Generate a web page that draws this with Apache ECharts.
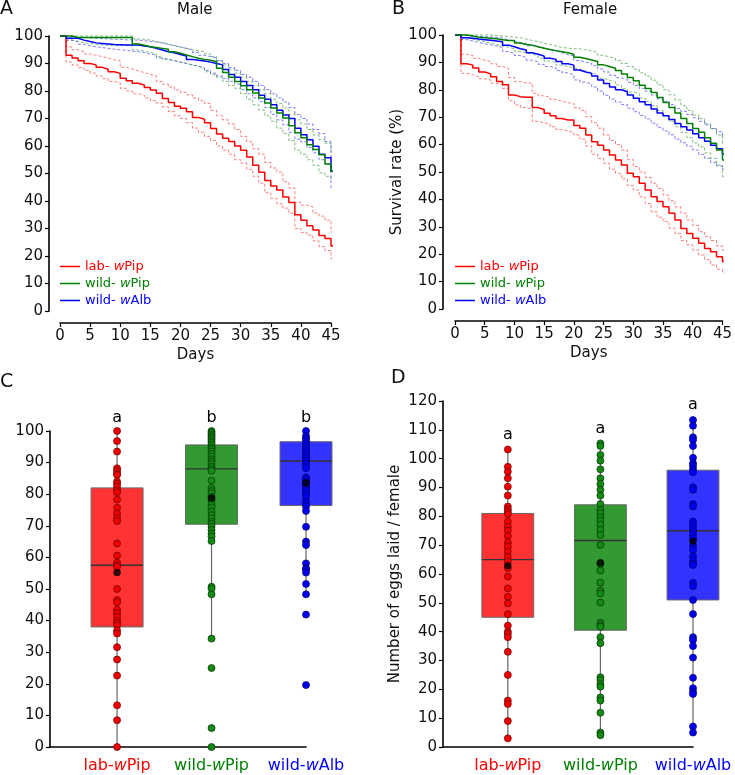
<!DOCTYPE html>
<html>
<head>
<meta charset="utf-8">
<script src="https://cdn.jsdelivr.net/npm/echarts@6/dist/echarts.min.js"></script>
<style>
html,body{margin:0;padding:0;background:#fff}
#main{width:735px;height:775px}
</style>
</head>
<body>
<div id="main"></div>
<script>
/******* survival curves, one value per day (0..46) ***********************/
// A - male
var maleLabMid  = [100,93,92,91,90,89.5,88.6,87.9,87,86.4,84.6,83.7,82.8,82.2,81.3,80.4,79.2,77.3,75.8,74.5,73.7,72.5,70.4,69.7,68.5,66.4,64.4,62.8,61.6,60,58.5,56,53,50.5,47.5,45.5,44,41.5,39.5,35,33,31,29.5,27.5,26.4,23.6,23.6];
var maleLabHi   = [100,96,95,94.3,93.5,93,92.5,92,91.3,91,88.6,88,87.3,86.7,86,85.5,83.5,82.5,81.5,80.4,79.5,78.6,77.5,76.5,75.5,73,71,69.5,68,66,63.5,61.5,59,57,54,52,50.5,47,44.7,39.5,38.5,37.9,35.6,34.5,33,28.7,28.7];
var maleLabLo   = [100,90.5,89.5,88.5,87.5,86.5,85.5,84.5,83.5,83,81,80,79,78.5,77.5,76.5,75.6,74.2,72.5,71,70,68.5,66.5,65,63.5,62,60,58.5,57,55,53.8,51.5,49,46.5,43,41,39,37.4,35.5,30,28.5,27.6,25.5,23.4,22,19,19];
var maleWPipMid = [100,100,99.5,99.5,99.5,99.5,99.5,99.5,99.5,99.5,99.5,99.5,97.1,96.6,96.1,95.8,95.5,95.2,94.3,93.7,93.1,92.5,91.9,91.5,91.2,90.7,88.3,86.7,85,83.5,81.9,80.5,79.3,77.5,75.6,73.8,72,70.2,67.4,64.8,63,60.5,58.7,56.8,53.5,50.8,50.8];
var maleWPipHi  = [100,100,100,100,100,100,100,100,100,100,100,100,99,98.8,98.5,98,97.5,97,96.5,96,95.5,95,94.6,94.3,93.5,92.5,91,89.5,88,86.5,85,83.5,82,80.5,79,77,75.5,73.8,71.5,69.5,68,66,64,62.3,61,58,58];
var maleWPipLo  = [100,98.5,98,97.5,97.3,97,96.8,96.6,96.5,96.5,96.5,96.5,94.9,94.5,94,93.5,92.5,91.5,91,90.5,90,89.5,89,88.3,87,86,85,83.5,82,81,79,77,75,73.1,71,69,66.5,64.6,62,58.5,57,55,53,50.2,49,47.6,47.6];
var maleWAlbMid = [100,99.2,99.2,98.5,98,97.5,97.3,97.1,96.9,96.8,96.7,96.7,96.7,96.4,96.1,95.5,94.9,94.3,93.9,93.3,92.7,91.5,91.2,90.9,90.5,90,89.5,87.8,86,85,83.5,82,80.5,78.5,77,75,73,71.3,70,66.5,64.1,62.3,59.9,57,55.7,50.8,50.8];
var maleWAlbHi  = [100,99.5,99.5,99.5,99.3,99.2,99,99,98.8,98.8,98.6,98.6,98.5,98.3,98,97.8,97.5,97,96.5,96,95.5,95,94,93,92.5,92,91,90,88.5,87.5,86,85,83.5,82,80.5,79,77.5,76,74,71.5,70,68,66,64.5,61.6,56,56];
var maleWAlbLo  = [100,98.5,98,97,96.5,96,95.8,95.5,95.2,95,94.8,94.5,94.3,94,93.5,93,92,91.5,91,90.5,90,89.5,89,88.3,87.5,86.5,85.5,84.5,83.5,82.5,80.5,79,77.5,76.2,74,71.5,69.5,67.7,65,62.5,61.5,59.5,57.5,55,53.5,44.6,44.6];

// B - female
var femLabMid  = [100,89.5,89,88,86.5,85.8,84.8,83,81.8,78.1,77.5,77.3,77.3,73.5,72.8,71.4,70.5,69.5,69,69,67,66,63.5,61,59.8,58,56.2,54.4,52.6,49.5,48.3,45.9,43.4,41,39.2,37.3,34.9,32.5,29.4,27.6,25.8,24,22.1,20.9,19.1,17.3,17];
var femLabHi   = [100,93,92.5,91.5,90.8,90.3,89.5,88.5,87.9,84.5,83,82.5,82.5,78.7,77.8,77.3,76.5,75.8,75.3,75,73.5,72.5,70.2,68,66,63.5,61.5,60,58,54.5,52,50,48,45.9,44,41.6,39.5,37.3,35,32.5,30.5,28.2,26.5,25,23,21.5,21];
var femLabLo   = [100,86,85.5,84.8,84,83.6,82.4,81.8,80.5,76,74.5,73.5,73,68.5,68,67.5,66.5,65.5,65,64.5,63.5,62,59.5,56.5,55,53.2,51,49.5,47.5,45,43.4,41,38.5,35.5,33.5,31.9,29.5,27.6,25,23.4,21.5,19.7,18,16.1,14.5,13.1,12.5];
var femWPipMid = [100,100,99.6,99.2,99,98.8,98.6,98.3,98,98,97.1,96.5,96.3,95.7,95.2,94.7,94.3,93.9,93.5,93,91.9,91.4,90.9,90.3,89.1,88.5,87.9,87,85.8,84.5,83.3,81.7,80.5,79,77.2,75.4,73.5,71.5,69.5,67.7,65.9,64.5,62.5,60.5,58,54.4,54.4];
var femWPipHi  = [100,100,100,100,100,100,99.8,99.6,99.4,99.2,99,98.5,98,97.6,97,96.5,96,95.5,95.2,95,95,94.6,94.2,93.7,92.6,92,91.5,90.7,89.6,88.5,87.5,86.2,85,83.5,81.8,80,78.2,76.3,74.3,72.5,70.8,69.5,67.6,65.8,63.5,60.4,60.4];
var femWPipLo  = [100,99,98.5,98,97.5,97,96.5,96,95.5,95,94,93.5,93,92.5,91.5,90.5,90,89,88.5,88,87.5,86.8,86.2,85.5,84.2,83.5,82.8,81.8,80.5,79.2,78.7,77,75.7,74.2,72.4,70.5,68.5,66.5,64.5,62.5,60.6,59.2,57,55,52.5,48.3,48.3];
var femWAlbMid = [100,99,98.8,98.5,98.3,98.1,97.8,97.5,96.3,95.7,95,94.5,93.5,93,92.3,91.5,91.1,90.3,89.5,89,87.2,86.5,86,85,83.6,82.3,81,80,79.3,78.1,76.9,75.6,74.5,73,71.5,70.5,69.2,67.7,66.5,65.3,64,62.5,61.2,59.8,58.5,56.6,56.6];
var femWAlbHi  = [100,99.8,99.6,99.5,99.4,99.3,99.1,98.9,98.2,97.8,97.3,96.9,96.1,95.7,95.2,94.5,94.1,93.5,92.8,92.4,90.7,90.1,89.7,88.9,87.6,86.5,85.3,84.4,83.8,82.7,81.6,80.5,79.5,78.1,76.7,75.8,74.6,73.2,72.1,71,69.8,68.5,67.2,65.9,64.7,62.9,62.9];
var femWAlbLo  = [100,98.3,97.8,97.3,96.8,96.4,96,95.5,94,93.3,92.5,91.8,90.8,90.2,89.3,88.5,88,87,86.2,85.5,83.6,82.8,82.2,81,79.5,78,76.6,75.5,74.6,73.3,72,70.6,69.4,67.8,66.2,65,63.6,62,60.7,59.4,58,56.4,55,53.5,52.2,51,51];

var legendNames = ['lab- wPip', 'wild- wPip', 'wild- wAlb'];

/******* box plots **********************************************************/
var categories = ['lab-wPip', 'wild-wPip', 'wild-wAlb'];
// [low whisker, Q1, median, Q3, high whisker]
var boxC = [[0, 38, 57.5, 82, 100], [34.3, 70.5, 88, 95.6, 100], [48.3, 76.4, 90.5, 96.6, 100]];
var meanC = [55.2, 78.8, 83.6];
var lettersC = ['a', 'b', 'b'];
var pointsCLab  = [100,96.8,93.5,88.2,87.5,86.6,86.1,84,83.3,82.4,81.2,80.6,78.3,75.7,73.9,72.5,71.5,64.4,60.6,58.3,57.5,57.1,50,46.5,45.8,43.4,42.4,41.3,40,39.2,38.5,36.9,35.9,31.6,27.7,22.6,13.2,8.5,0];
var pointsCWPip = [100,99.5,98.9,98.4,97.9,97.4,96.8,96.3,95.6,94.8,94.2,93.5,92.7,91.9,91,90.3,89.6,88.7,88,87.4,84.3,81.9,81,80.3,79.2,78.2,76.8,75.8,74.5,73.4,72.4,71.3,70.6,69.7,68.7,67.6,66.6,65.2,50.7,50.1,48.3,34.3,25,6,0];
var pointsCWAlb = [100,98.4,97.7,96.9,96.1,95.3,94.5,93.7,92.9,92.1,91.4,90.6,89.8,88.9,88.2,85.3,84.7,84,83.2,82.4,81.5,81,80.1,79.2,77.7,76.9,76.1,74.7,69.7,65,63.9,58.1,56.5,56.2,55.2,51.6,48.3,41.9,19.6];

var boxD = [[3, 45, 65, 81, 103.2], [4.1, 40.5, 71.6, 84, 105.3], [5, 51, 75, 96, 113.4]];
var meanD = [62.9, 63.9, 71.4];
var lettersD = ['a', 'a', 'a'];
var pointsDLab  = [103.2,97.2,95.5,93.2,90.3,87.2,83.4,82.4,81.6,80.8,78.2,76.4,75.1,73.2,70.9,69.5,67.8,66,64.3,62,59.1,55,52.1,49.8,46.1,42.1,40,39.2,38.1,33,25,16.1,14.9,9,3];
var pointsDWPip = [105.3,104.4,101.3,99.3,96.3,93.2,91.2,89.2,87.2,84.3,82.2,81.1,79.7,78.5,77.1,75.3,73.6,70.1,63.5,61.2,57,54.2,53.3,50.1,43.1,42.3,41.7,38.1,36,24.2,23.2,21.8,20.9,17.2,16.1,11.9,5,4.1];
var pointsDWAlb = [113.4,111.4,107.4,106.5,104.4,100.3,98.4,97.5,96.3,95.3,90.1,89.2,84.3,83.4,78.2,77.1,75.9,74.8,73.6,72.4,69.8,68.4,66.1,64.7,63.6,63.1,57,55.8,51,46.1,38.1,37.1,35,31,24,20.4,19.2,18.4,7.1,5];

/******* styles *************************************************************/
var FONT = 'DejaVu Sans';
var TXT = '#111';
var lineColors = ['#ff0000', '#008000', '#0000ff'];
var boxFill = ['#ff3333', '#339933', '#3333ff'];
var dotFill = ['#ee0000', '#138a13', '#0000ee'];
var dotEdge = ['#6a0000', '#063006', '#00006a'];
var richKeys = ['r', 'g', 'b'];

var rich = {};
richKeys.forEach(function(k, i) {
	rich[k] = {color: lineColors[i], fontFamily: FONT, fontSize: 13, lineHeight: 14};
	rich[k + 'i'] = {color: lineColors[i], fontFamily: FONT, fontSize: 13, lineHeight: 14, fontStyle: 'italic'};
	rich[k + 'c'] = {color: lineColors[i], fontFamily: FONT, fontSize: 16};
	rich[k + 'ci'] = {color: lineColors[i], fontFamily: FONT, fontSize: 16, fontStyle: 'italic'};
});

function stepData(arr) {
	return arr.map(function(v, i) { return [i, v]; });
}

function kmLine(arr, ci, grid, dashed, name) {
	return {
		type: 'line', name: name, xAxisIndex: grid, yAxisIndex: grid,
		data: stepData(arr), step: 'end', symbol: 'none', clip: false, silent: true,
		itemStyle: {color: lineColors[ci]},
		lineStyle: dashed ? {color: lineColors[ci], width: 1, type: [3, 2], opacity: 0.5}
		                  : {color: lineColors[ci], width: 1.5},
		z: dashed ? 2 : 3
	};
}

function valueAxis(grid, max, offset, name, gap) {
	return {
		type: 'value', gridIndex: grid, min: 0, max: max, interval: 10, offset: offset,
		name: name || '', nameLocation: 'middle', nameGap: gap || 0,
		nameTextStyle: {fontFamily: FONT, fontSize: 15, color: TXT},
		axisLine: {show: true, onZero: false, lineStyle: {color: '#000', width: 1.6}},
		axisTick: {show: true, length: 4, lineStyle: {color: '#000', width: 1.2}},
		axisLabel: {fontFamily: FONT, fontSize: 15, color: TXT, margin: 6},
		splitLine: {show: false}
	};
}

function daysAxis(grid) {
	return {
		type: 'value', gridIndex: grid, min: 0, max: 45, interval: 5, offset: 12,
		name: 'Days', nameLocation: 'middle', nameGap: 25,
		nameTextStyle: {fontFamily: FONT, fontSize: 15, color: TXT},
		axisLine: {show: true, onZero: false, lineStyle: {color: '#000', width: 1.6}},
		axisTick: {show: true, length: 4, lineStyle: {color: '#000', width: 1.2}},
		axisLabel: {fontFamily: FONT, fontSize: 15, color: TXT, margin: 6},
		splitLine: {show: false}
	};
}

function groupAxis(grid, min) {
	return {
		type: 'value', gridIndex: grid, min: min, max: 2,
		axisLine: {show: true, onZero: false, lineStyle: {color: '#000', width: 1.6}},
		axisTick: {show: false},
		splitLine: {show: false},
		axisLabel: {
			customValues: [0, 1, 2], margin: 11, rich: rich,
			formatter: function(v) {
				var i = Math.round(v);
				var k = richKeys[i];
				var p = categories[i].split('-w');
				return '{' + k + 'c|' + p[0] + '-}{' + k + 'ci|w}{' + k + 'c|' + p[1] + '}';
			}
		}
	};
}

function boxRenderer(width) {
	return function(params, api) {
		var x = api.value(0);
		var lo = api.coord([x, api.value(1)]);
		var q1 = api.coord([x, api.value(2)]);
		var md = api.coord([x, api.value(3)]);
		var q3 = api.coord([x, api.value(4)]);
		var hi = api.coord([x, api.value(5)]);
		var hw = api.size([width, 0])[0] / 2;
		return {
			type: 'group',
			children: [
				{type: 'line', shape: {x1: lo[0], y1: lo[1], x2: hi[0], y2: hi[1]}, style: {stroke: '#666', lineWidth: 1.2}},
				{type: 'rect', shape: {x: q3[0] - hw, y: q3[1], width: hw * 2, height: q1[1] - q3[1]},
				 style: {fill: boxFill[params.dataIndex], stroke: '#666', lineWidth: 1}},
				{type: 'line', shape: {x1: md[0] - hw, y1: md[1], x2: md[0] + hw, y2: md[1]}, style: {stroke: '#333', lineWidth: 1.4}}
			]
		};
	};
}

function boxSeries(grid, boxes, width) {
	return {
		type: 'custom', xAxisIndex: grid, yAxisIndex: grid, silent: true, z: 2,
		data: boxes.map(function(b, i) { return [i].concat(b); }),
		encode: {x: 0, y: [1, 2, 3, 4, 5]},
		renderItem: boxRenderer(width)
	};
}

function dotSeries(grid, idx, vals) {
	return {
		type: 'scatter', xAxisIndex: grid, yAxisIndex: grid, silent: true, clip: false, z: 3,
		symbolSize: 7,
		data: vals.map(function(v) { return [idx, v]; }),
		itemStyle: {color: dotFill[idx], borderColor: dotEdge[idx], borderWidth: 0.7, opacity: 1}
	};
}

function meanSeries(grid, means) {
	return {
		type: 'scatter', xAxisIndex: grid, yAxisIndex: grid, silent: true, clip: false, z: 4,
		symbolSize: 7,
		data: means.map(function(v, i) { return [i, v]; }),
		itemStyle: {color: '#000', borderColor: '#000', borderWidth: 0.5}
	};
}

function letterSeries(grid, boxes, letters, dist) {
	return {
		type: 'scatter', xAxisIndex: grid, yAxisIndex: grid, silent: true, clip: false, z: 5,
		symbolSize: 0,
		data: boxes.map(function(b, i) { return [i, b[4]]; }),
		itemStyle: {color: '#000', opacity: 1},
		label: {
			show: true, position: 'top', distance: dist, opacity: 1,
			fontFamily: FONT, fontSize: 16, color: '#000',
			formatter: function(p) { return letters[p.dataIndex]; }
		}
	};
}

function legendAt(left) {
	return {
		left: left, top: 260, orient: 'vertical', padding: 0, itemGap: 4,
		itemWidth: 20, itemHeight: 1.5, icon: 'rect', selectedMode: false,
		data: legendNames,
		textStyle: {fontFamily: FONT, fontSize: 13, rich: rich},
		formatter: function(name) {
			var i = legendNames.indexOf(name);
			var k = richKeys[i];
			var p = name.split(' w');
			return '{' + k + '|' + p[0] + ' }{' + k + 'i|w}{' + k + '|' + p[1] + '}';
		}
	};
}

function titleAt(text, left, top, size) {
	return {text: text, left: left, top: top, padding: 0,
		textStyle: {fontFamily: FONT, fontSize: size, fontWeight: 'normal', color: TXT}};
}

var series = [];
// A
series.push(kmLine(maleLabHi, 0, 0, true), kmLine(maleLabLo, 0, 0, true));
series.push(kmLine(maleWAlbHi, 2, 0, true), kmLine(maleWAlbLo, 2, 0, true));
series.push(kmLine(maleWPipHi, 1, 0, true), kmLine(maleWPipLo, 1, 0, true));
series.push(kmLine(maleLabMid, 0, 0, false, legendNames[0]));
series.push(kmLine(maleWAlbMid, 2, 0, false, legendNames[2]));
series.push(kmLine(maleWPipMid, 1, 0, false, legendNames[1]));
// B
series.push(kmLine(femLabHi, 0, 1, true), kmLine(femLabLo, 0, 1, true));
series.push(kmLine(femWAlbHi, 2, 1, true), kmLine(femWAlbLo, 2, 1, true));
series.push(kmLine(femWPipHi, 1, 1, true), kmLine(femWPipLo, 1, 1, true));
series.push(kmLine(femLabMid, 0, 1, false, legendNames[0]));
series.push(kmLine(femWAlbMid, 2, 1, false, legendNames[2]));
series.push(kmLine(femWPipMid, 1, 1, false, legendNames[1]));
// C
series.push(boxSeries(2, boxC, 0.55));
series.push(dotSeries(2, 0, pointsCLab), dotSeries(2, 1, pointsCWPip), dotSeries(2, 2, pointsCWAlb));
series.push(meanSeries(2, meanC), letterSeries(2, boxC, lettersC, 5));
// D
series.push(boxSeries(3, boxD, 0.56));
series.push(dotSeries(3, 0, pointsDLab), dotSeries(3, 1, pointsDWPip), dotSeries(3, 2, pointsDWAlb));
series.push(meanSeries(3, meanD), letterSeries(3, boxD, lettersD, 7));

var option = {
	animation: false,
	backgroundColor: '#fff',
	title: [
		titleAt('A', 0, 0, 19), titleAt('Male', 177, 3, 15),
		titleAt('B', 392, 0, 19), titleAt('Female', 563, 3, 15),
		titleAt('C', 0, 373, 19), titleAt('D', 391, 369, 19)
	],
	legend: [legendAt(60), legendAt(455)],
	grid: [
		{left: 60, top: 36, width: 271, height: 275},
		{left: 455, top: 35, width: 271, height: 274},
		{left: 50, top: 431, width: 256, height: 316},
		{left: 443, top: 401, width: 250, height: 346}
	],
	xAxis: [daysAxis(0), daysAxis(1), groupAxis(2, -0.71), groupAxis(3, -0.70)],
	yAxis: [
		valueAxis(0, 100, 11),
		valueAxis(1, 100, 12, 'Survival rate (%)', 38),
		valueAxis(2, 100, 0),
		valueAxis(3, 120, 0, 'Number of eggs laid / female', 40)
	],
	series: series
};

var chart = echarts.init(document.getElementById('main'), null, {renderer: 'canvas'});
chart.setOption(option);
</script>
</body>
</html>
